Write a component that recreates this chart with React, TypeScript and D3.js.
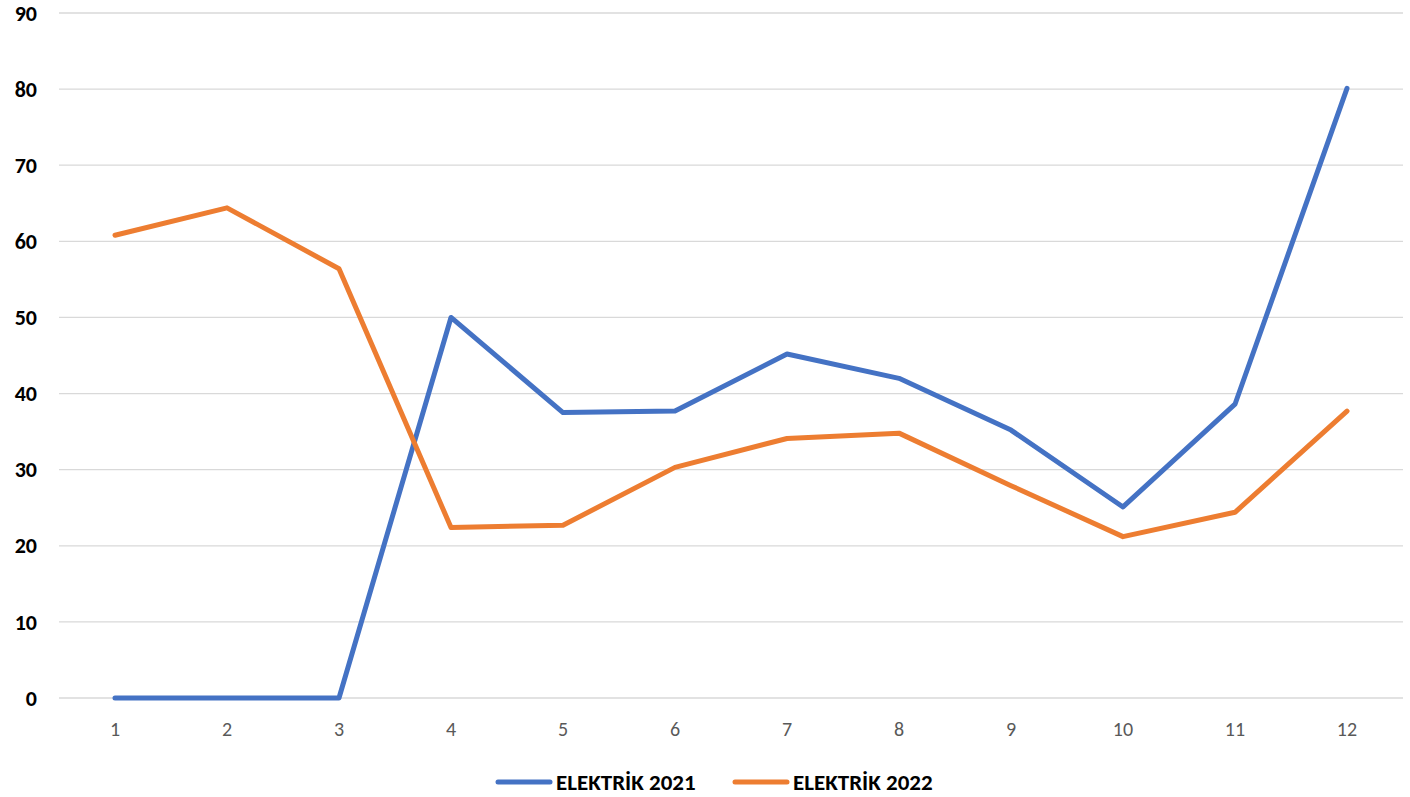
import { useEffect, useRef } from 'react';
import * as d3 from 'd3';

const months = ['1', '2', '3', '4', '5', '6', '7', '8', '9', '10', '11', '12'];
const elektrik2021 = [0, 0, 0, 50, 37.5, 37.7, 45.2, 42.0, 35.2, 25.1, 38.6, 80.1];
const elektrik2022 = [60.8, 64.4, 56.4, 22.4, 22.7, 30.3, 34.1, 34.8, 27.9, 21.2, 24.4, 37.7];
const yTicks = [0, 10, 20, 30, 40, 50, 60, 70, 80, 90];
const seriesNames = ['ELEKTRİK 2021', 'ELEKTRİK 2022'];
const seriesColors = ['#4472C4', '#ED7D31'];

const W = 1410;
const H = 797;

export default function App() {
  const ref = useRef<SVGSVGElement>(null);

  useEffect(() => {
    if (!ref.current) return;
    const svg = d3.select(ref.current);
    svg.selectAll('*').remove();

    const margin = { top: 13, right: 7, bottom: 99, left: 59 };
    const innerW = W - margin.left - margin.right;
    const innerH = H - margin.top - margin.bottom;
    const font = 'Calibri, Carlito, Lato, "Liberation Sans", sans-serif';

    const g = svg.append('g').attr('transform', `translate(${margin.left},${margin.top})`);

    const x = d3.scaleBand().domain(months).range([0, innerW]);
    const y = d3.scaleLinear().domain([0, 90]).range([innerH, 0]);

    // gridlines
    g.selectAll('.grid')
      .data(yTicks)
      .enter()
      .append('line')
      .attr('x1', 0)
      .attr('x2', innerW)
      .attr('y1', d => y(d))
      .attr('y2', d => y(d))
      .attr('stroke', '#D9D9D9')
      .attr('stroke-width', 1.3);

    // y labels
    g.selectAll('.ylab')
      .data(yTicks)
      .enter()
      .append('text')
      .attr('x', -22)
      .attr('y', d => y(d))
      .attr('dy', '0.35em')
      .attr('text-anchor', 'end')
      .attr('font-family', font)
      .attr('font-weight', 'bold')
      .attr('font-size', 22)
      .attr('fill', '#000')
      .text(d => d);

    // x labels
    g.selectAll('.xlab')
      .data(months)
      .enter()
      .append('text')
      .attr('x', d => (x(d) || 0) + x.bandwidth() / 2)
      .attr('y', innerH + 31)
      .attr('dy', '0.35em')
      .attr('text-anchor', 'middle')
      .attr('font-family', font)
      .attr('font-size', 20)
      .attr('fill', '#595959')
      .text(d => d);

    const line = d3.line<number>()
      .x((_, i) => (x(months[i]) || 0) + x.bandwidth() / 2)
      .y(d => y(d));

    [elektrik2021, elektrik2022].forEach((s, i) => {
      g.append('path')
        .datum(s)
        .attr('d', line)
        .attr('fill', 'none')
        .attr('stroke', seriesColors[i])
        .attr('stroke-width', 5)
        .attr('stroke-linejoin', 'round')
        .attr('stroke-linecap', 'round');
    });

    // legend
    const legendX = [496, 733];
    seriesNames.forEach((name, i) => {
      const lg = svg.append('g').attr('transform', `translate(${legendX[i]},782)`);
      lg.append('line')
        .attr('x1', 2)
        .attr('x2', 54)
        .attr('y1', 0)
        .attr('y2', 0)
        .attr('stroke', seriesColors[i])
        .attr('stroke-width', 5)
        .attr('stroke-linecap', 'round');
      lg.append('text')
        .attr('x', 60)
        .attr('y', 0)
        .attr('dy', '0.35em')
        .attr('font-family', font)
        .attr('font-weight', 'bold')
        .attr('font-size', 23)
        .attr('fill', '#000')
        .text(name);
    });
  }, []);

  return (
    <div style={{ position: 'fixed', left: 0, top: 0, background: '#fff' }}>
      <svg ref={ref} width={W} height={H} style={{ display: 'block' }} />
    </div>
  );
}
